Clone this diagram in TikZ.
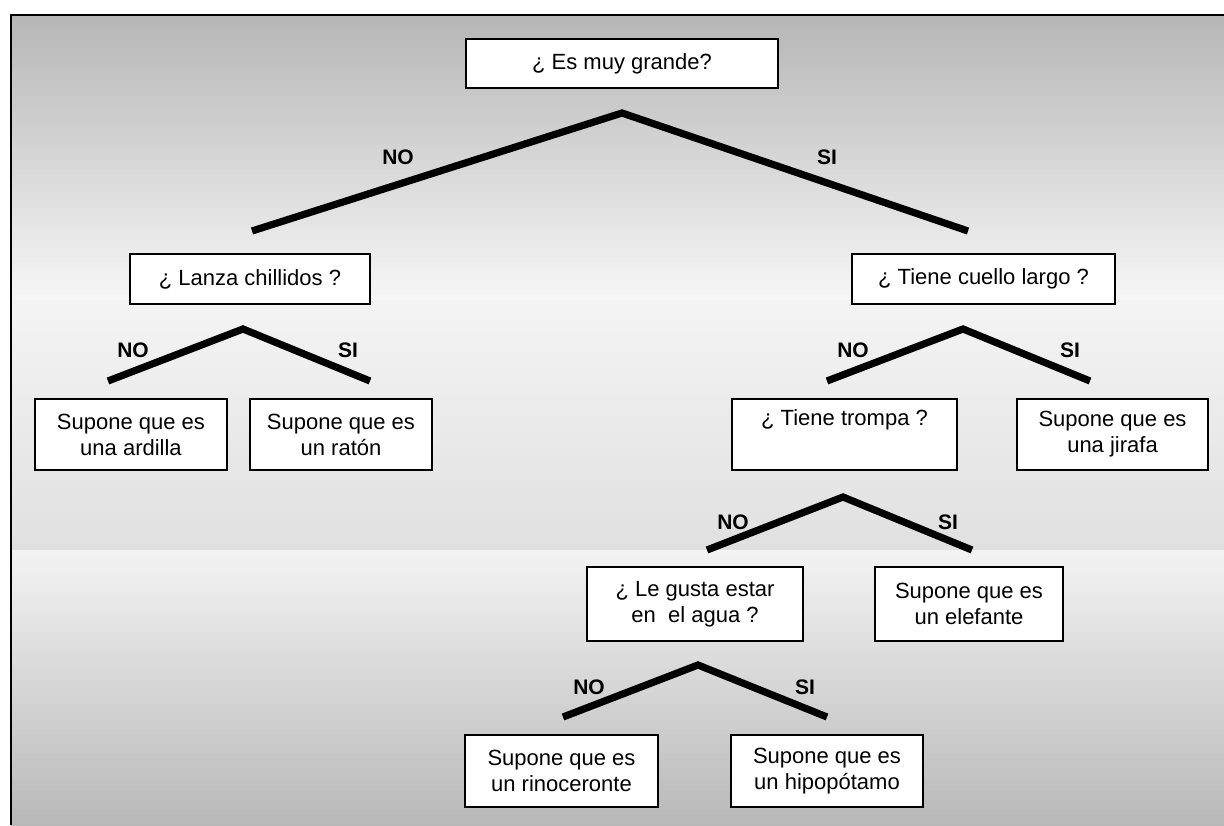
\documentclass[tikz,border=0pt]{standalone}
\usepackage{fontspec}
\setmainfont{Liberation Sans}
\definecolor{bandA}{HTML}{B6B6B6}
\definecolor{bandB}{HTML}{F6F6F6}
\definecolor{bandC}{HTML}{F4F4F4}
\definecolor{bandD}{HTML}{E0E0E0}
\definecolor{bandE}{HTML}{F3F3F3}
\definecolor{bandF}{HTML}{B8B8B8}
\begin{document}
\begin{tikzpicture}[x=0.5pt,y=-0.5pt,
  qbox/.style 2 args={draw=black, line width=1pt, fill=white, inner sep=0pt,
    minimum width=#1, minimum height=#2, align=center,
    font=\fontsize{11}{13}\selectfont},
  answer/.style={font=\fontsize{10.5}{12}\selectfont\bfseries, inner sep=0pt},
  branch/.style={line width=3.6pt, line join=miter, line cap=butt}
]
\useasboundingbox (0,0) rectangle (1224,825);

% background bands
\shade[top color=bandA, bottom color=bandB] (11,15) rectangle (1224,300);
\shade[top color=bandC, bottom color=bandD] (11,300) rectangle (1224,550);
\shade[top color=bandE, bottom color=bandF] (11,550) rectangle (1224,825);
\draw[line width=1.25pt] (11,825) -- (11,15) -- (1224,15);

% question and answer boxes
\node[qbox={156pt}{24.5pt}] (q0) at (622,63.5) {¿ Es muy grande?};
\node[qbox={120pt}{25pt}] (q1) at (250,279) {¿ Lanza chillidos ?};
\node[qbox={131.5pt}{25pt}] (q2) at (983.5,279) {¿ Tiene cuello largo ?};
\node[qbox={96pt}{35.5pt}] (ardilla) at (131,434.5) {Supone que es\\una ardilla};
\node[qbox={91pt}{35.5pt}] (raton) at (341,434.5) {Supone que es\\un ratón};
\node[qbox={112.5pt}{35.5pt}] (q3) at (844.5,434.5) {¿ Tiene trompa ?\\\strut};
\node[qbox={95.5pt}{35.5pt}] (jirafa) at (1112.5,434.5) {Supone que es\\una jirafa};
\node[qbox={108pt}{37pt}] (q4) at (695,604) {¿ Le gusta estar\\en\ \ el agua ?};
\node[qbox={94pt}{37pt}] (elefante) at (969,604) {Supone que es\\un elefante};
\node[qbox={96.5pt}{36pt}] (rino) at (561.5,771) {Supone que es\\un rinoceronte};
\node[qbox={96pt}{36pt}] (hipo) at (827,771) {Supone que es\\un hipopótamo};

% branch points
\coordinate (t0) at (622,113);  \coordinate (l0) at (252,231);  \coordinate (r0) at (968,231);
\coordinate (t1) at (243,329);  \coordinate (l1) at (108,381);  \coordinate (r1) at (370,381);
\coordinate (t2) at (963,329);  \coordinate (l2) at (827,381);  \coordinate (r2) at (1090,381);
\coordinate (t3) at (843,497);  \coordinate (l3) at (707,550);  \coordinate (r3) at (972,550);
\coordinate (t4) at (698,665);  \coordinate (l4) at (563,717);  \coordinate (r4) at (827,717);

\draw[branch] (l0) -- (t0) -- (r0);
\draw[branch] (l1) -- (t1) -- (r1);
\draw[branch] (l2) -- (t2) -- (r2);
\draw[branch] (l3) -- (t3) -- (r3);
\draw[branch] (l4) -- (t4) -- (r4);

% yes / no labels
\node[answer] (n0) at (398,157) {NO};
\node[answer] (s0) at (827,157) {SI};
\node[answer] (n1) at (133,350) {NO};
\node[answer] (s1) at (348,350) {SI};
\node[answer] (n2) at (853,350) {NO};
\node[answer] (s2) at (1070,350) {SI};
\node[answer] (n3) at (733,522) {NO};
\node[answer] (s3) at (948,522) {SI};
\node[answer] (n4) at (589,687) {NO};
\node[answer] (s4) at (805,687) {SI};
\end{tikzpicture}
\end{document}
